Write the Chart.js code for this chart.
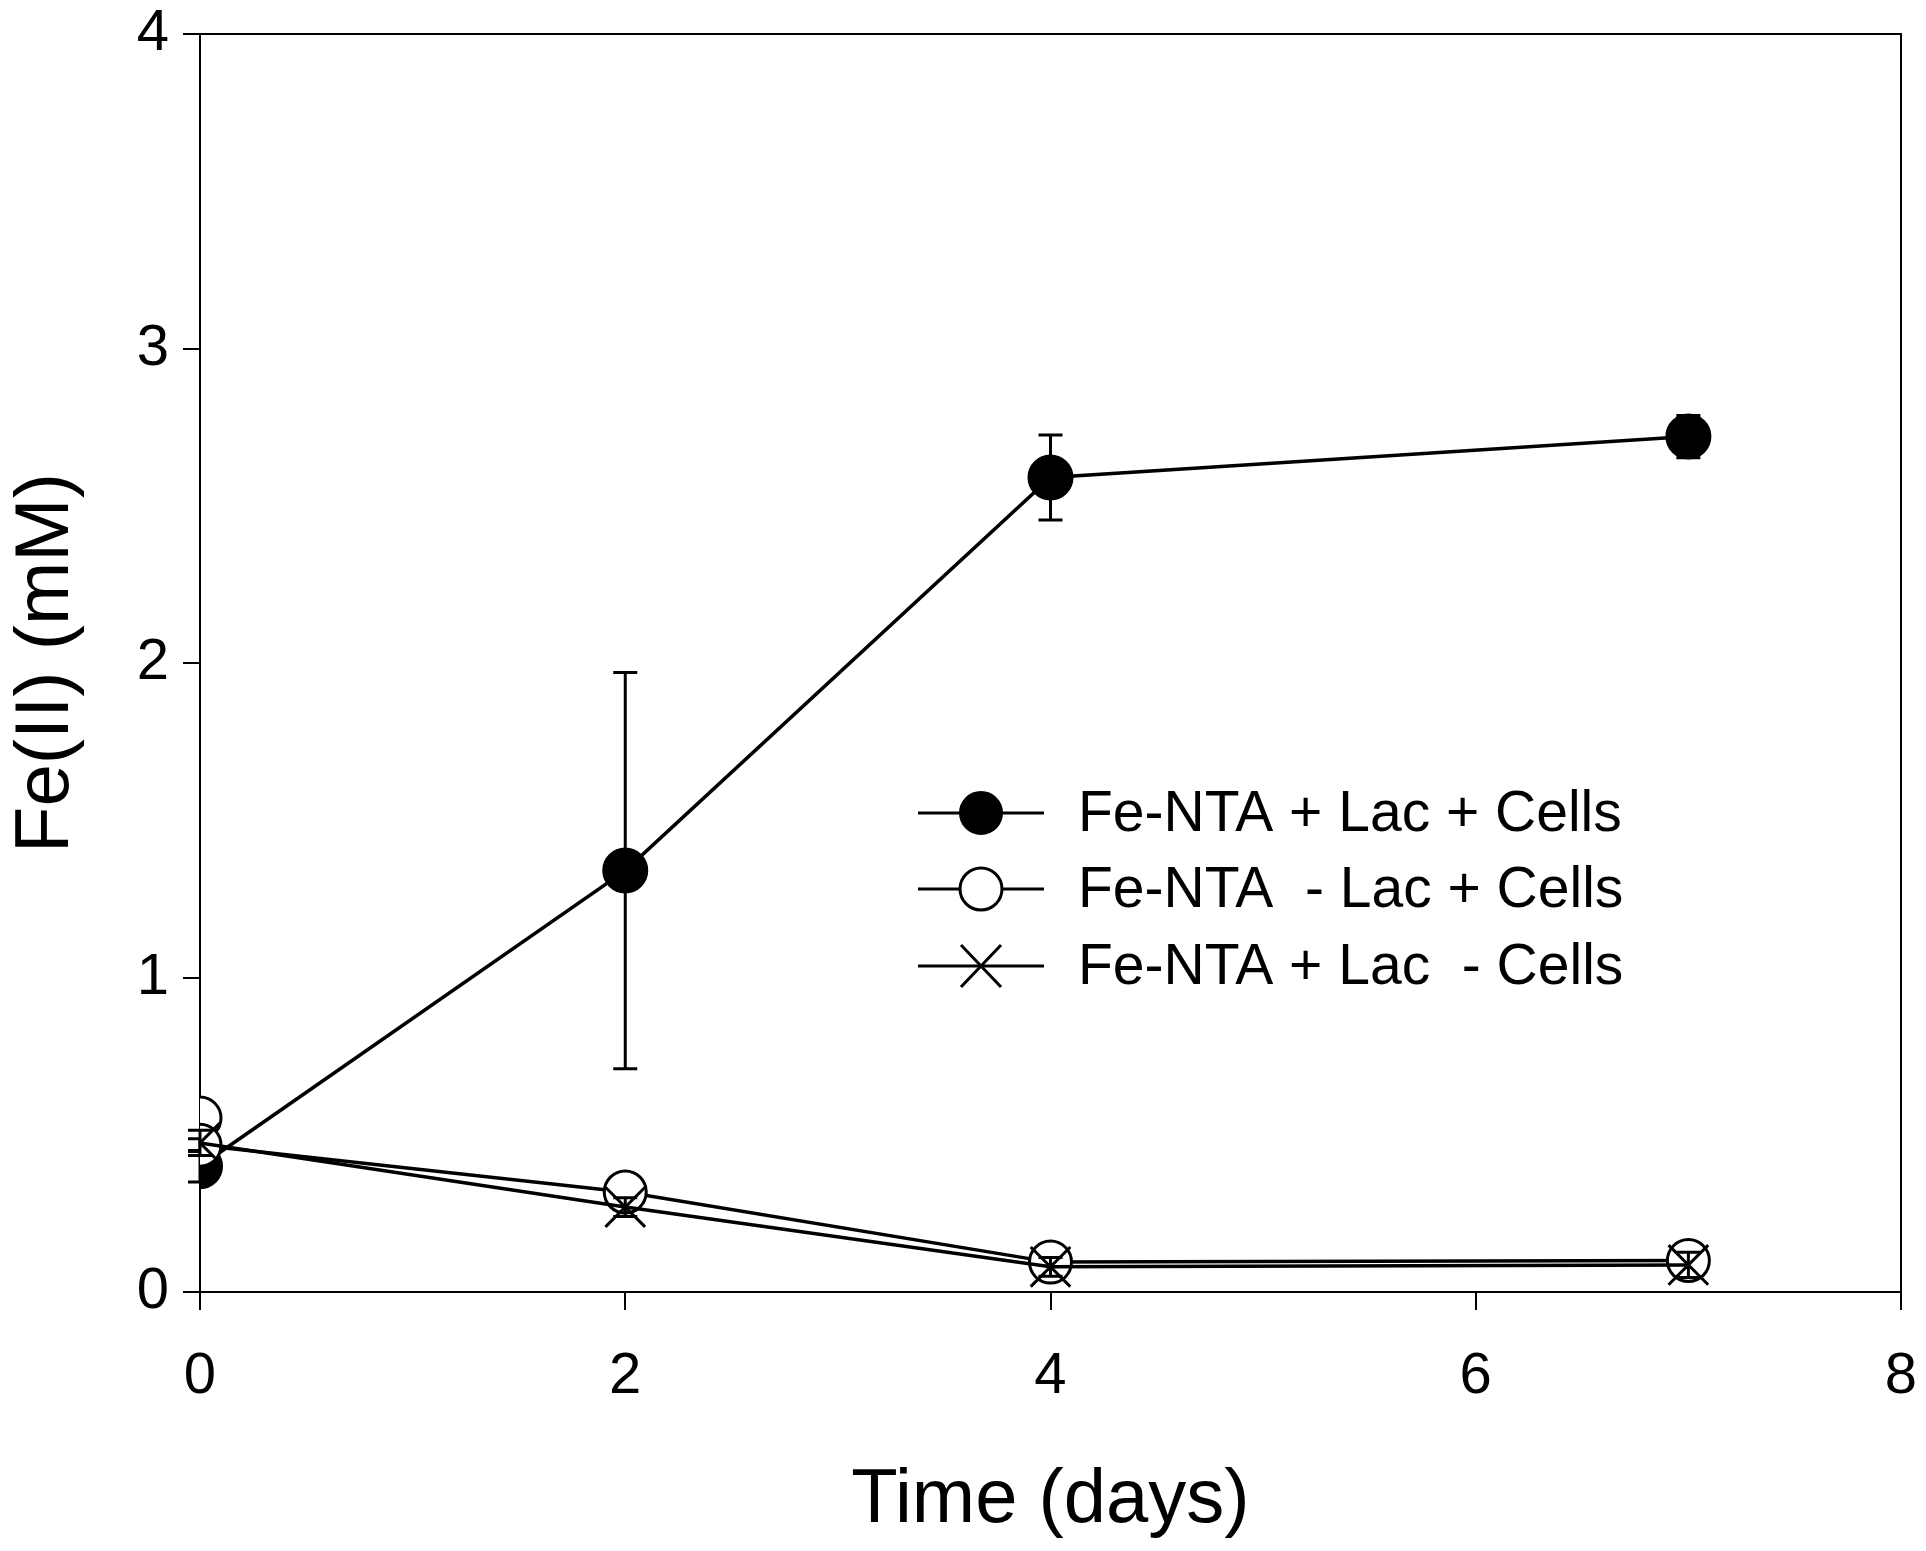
<!DOCTYPE html>
<html>
<head>
<meta charset="utf-8">
<script src="https://cdn.jsdelivr.net/npm/chart.js@4/dist/chart.umd.min.js"></script>
<style>
	html, body {margin: 0; padding: 0; background: #fff;}
	#wrap {width: 1926px; height: 1551px;}
</style>
</head>
<body>
<div id="wrap"><canvas id="chart"></canvas></div>
<script>
// values
const days = [0, 2, 4, 7];
const lacCells = [0.40, 1.34, 2.59, 2.72];
const lacCellsErr = [0.05, 0.63, 0.135, 0.067];
const noLacCells = [0.467, 0.318, 0.095, 0.10];
const noLacCellsErr = [0.02, 0.02, 0.02, 0.02];
const noLacCellsExtra = [{x: 0, y: 0.553}];
const lacNoCells = [0.474, 0.27, 0.08, 0.086];
const lacNoCellsErr = [0.04, 0.03, 0.03, 0.04];
const seriesLabels = ['Fe-NTA + Lac + Cells', 'Fe-NTA  - Lac + Cells', 'Fe-NTA + Lac  - Cells'];
const xTicks = [0, 2, 4, 6, 8];
const yTicks = [0, 1, 2, 3, 4];

const FONT = '"Liberation Sans", Arial, sans-serif';

function points(ys) {
	return days.map((d, i) => ({x: d, y: ys[i]}));
}

// error bars drawn just before their own dataset so markers sit on top
const errorBars = {
	id: 'errorBars',
	beforeDatasetDraw(chart, args) {
		const ds = chart.data.datasets[args.index];
		if (!ds.errors) return;
		const ctx = chart.ctx, ys = chart.scales.y;
		ctx.save();
		ctx.strokeStyle = '#000';
		ctx.lineWidth = 3;
		args.meta.data.forEach((pt, i) => {
			const v = ds.data[i].y, e = ds.errors[i];
			const top = ys.getPixelForValue(v + e), bot = ys.getPixelForValue(v - e);
			ctx.beginPath();
			ctx.moveTo(pt.x, top); ctx.lineTo(pt.x, bot);
			ctx.moveTo(pt.x - 12, top); ctx.lineTo(pt.x + 12, top);
			ctx.moveTo(pt.x - 12, bot); ctx.lineTo(pt.x + 12, bot);
			ctx.stroke();
		});
		ctx.restore();
	}
};

// frame around plot + legend inside the plot
const frameLegend = {
	id: 'frameLegend',
	afterDraw(chart) {
		const ctx = chart.ctx, a = chart.chartArea;
		ctx.save();
		ctx.strokeStyle = '#000';
		ctx.lineWidth = 2;
		ctx.beginPath();
		ctx.moveTo(a.left, a.top); ctx.lineTo(a.right, a.top); ctx.lineTo(a.right, a.bottom);
		ctx.stroke();

		const rows = [813, 889, 966];
		ctx.font = '57px ' + FONT;
		ctx.textBaseline = 'middle';
		chart.data.datasets.slice(0, 3).forEach((ds, i) => {
			const y = rows[i];
			ctx.strokeStyle = '#000';
			ctx.lineWidth = 3;
			ctx.beginPath();
			ctx.moveTo(918, y); ctx.lineTo(1044, y);
			ctx.stroke();
			ctx.fillStyle = ds.pointBackgroundColor;
			ctx.lineWidth = ds.pointBorderWidth;
			ctx.beginPath();
			if (ds.pointStyle === 'circle') {
				ctx.arc(981, y, 21, 0, Math.PI * 2);
				ctx.fill();
				ctx.stroke();
			} else {
				ctx.moveTo(961, y - 21); ctx.lineTo(1001, y + 21);
				ctx.moveTo(1001, y - 21); ctx.lineTo(961, y + 21);
				ctx.stroke();
			}
			ctx.fillStyle = '#000';
			ctx.fillText(seriesLabels[i], 1078, y + 2);
		});
		ctx.restore();
	}
};

const tickFont = {family: FONT, size: 58};
const titleFont = {family: FONT, size: 76};

function noPad(s) {
	s.paddingLeft = 0; s.paddingRight = 0; s.paddingTop = 0; s.paddingBottom = 0;
}

new Chart(document.getElementById('chart'), {
	type: 'scatter',
	data: {
		datasets: [
			{
				label: seriesLabels[0],
				data: points(lacCells),
				errors: lacCellsErr,
				showLine: true,
				borderColor: '#000', borderWidth: 3.5,
				pointStyle: 'circle', pointRadius: 22, pointBorderWidth: 2,
				pointBackgroundColor: '#000', pointBorderColor: '#000',
				order: 3
			},
			{
				label: seriesLabels[1],
				data: points(noLacCells),
				errors: noLacCellsErr,
				showLine: true,
				borderColor: '#000', borderWidth: 3.5,
				pointStyle: 'circle', pointRadius: 21, pointBorderWidth: 3,
				pointBackgroundColor: '#fff', pointBorderColor: '#000',
				order: 2
			},
			{
				label: seriesLabels[2],
				data: points(lacNoCells),
				errors: lacNoCellsErr,
				showLine: true,
				borderColor: '#000', borderWidth: 3.5,
				pointStyle: 'crossRot', pointRadius: 28, pointBorderWidth: 3,
				pointBackgroundColor: '#000', pointBorderColor: '#000',
				order: 1
			},
			{
				label: 'extra',
				data: noLacCellsExtra,
				showLine: false,
				pointStyle: 'circle', pointRadius: 21, pointBorderWidth: 3,
				pointBackgroundColor: '#fff', pointBorderColor: '#000',
				order: 2
			}
		]
	},
	options: {
		responsive: true,
		maintainAspectRatio: false,
		animation: false,
		devicePixelRatio: 1,
		layout: {autoPadding: false, padding: {left: 0, right: 25, top: 34, bottom: 0}},
		plugins: {
			legend: {display: false},
			tooltip: {enabled: false}
		},
		scales: {
			x: {
				type: 'linear',
				min: 0, max: 8,
				afterBuildTicks: (s) => { s.ticks = xTicks.map((v) => ({value: v})); },
				afterFit: (s) => { s.height = 259; noPad(s); },
				border: {color: '#000', width: 2},
				grid: {drawOnChartArea: false, color: '#000', lineWidth: 2, tickLength: 18},
				ticks: {color: '#000', font: tickFont, padding: 32, maxRotation: 0},
				title: {display: true, text: 'Time (days)', color: '#000', font: titleFont, padding: {top: 0, bottom: 4}}
			},
			y: {
				type: 'linear',
				min: 0, max: 4,
				afterBuildTicks: (s) => { s.ticks = yTicks.map((v) => ({value: v})); },
				afterFit: (s) => { s.width = 200; noPad(s); },
				border: {color: '#000', width: 2},
				grid: {drawOnChartArea: false, color: '#000', lineWidth: 2, tickLength: 17},
				ticks: {color: '#000', font: tickFont, padding: 14},
				title: {display: true, text: 'Fe(II) (mM)', color: '#000', font: titleFont, padding: {top: 1, bottom: 0}}
			}
		}
	},
	plugins: [errorBars, frameLegend]
});
</script>
</body>
</html>
